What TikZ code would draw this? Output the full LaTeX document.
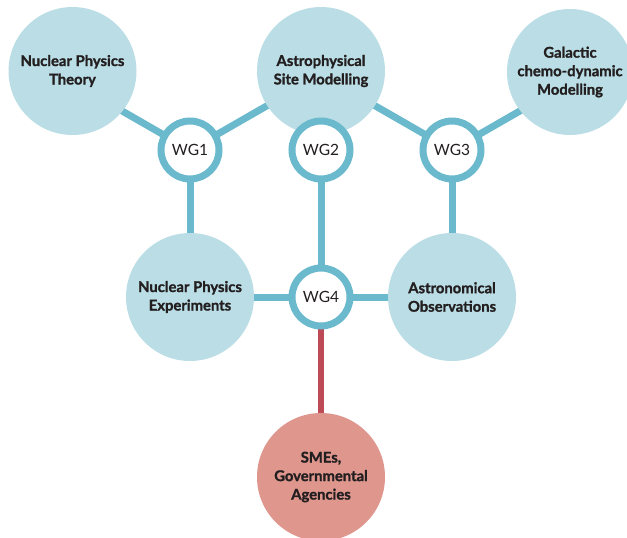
\documentclass[tikz,border=0pt]{standalone}
\usepackage{fontspec}
\setmainfont{Lato}[BoldFeatures={FakeBold=1.3}]
\usetikzlibrary{backgrounds}
\definecolor{bubble}{RGB}{187,222,230}
\definecolor{ringblue}{RGB}{107,185,204}
\definecolor{pinkbubble}{RGB}{222,150,141}
\definecolor{redlink}{RGB}{190,74,85}
\definecolor{textdark}{RGB}{35,31,32}
\begin{document}
\begin{tikzpicture}[x=1pt,y=-1pt,
  big/.style={circle, fill=bubble, minimum size=128pt, inner sep=0pt, align=center,
    font=\bfseries\fontsize{14.8}{18.5}\selectfont, text=textdark},
  wg/.style={circle, draw=ringblue, line width=7pt, fill=white, minimum size=58pt,
    inner sep=0pt, font=\fontsize{15.5}{18}\selectfont, text=textdark},
  link/.style={line width=7pt, draw=ringblue},
  rlink/.style={line width=6pt, draw=redlink}]
\useasboundingbox (0,0) rectangle (627,538);
% big circles
\node[big] (NPT) at (72.5,71) {Nuclear Physics\\Theory};
\node[big] (ASM) at (321,71) {Astrophysical\\Site Modelling};
\node[big, minimum size=126pt] (GCM) at (570,72) {Galactic\\chemo-dynamic\\Modelling};
\node[big] (NPE) at (190,297) {Nuclear Physics\\Experiments};
\node[big] (ASO) at (452,297) {Astronomical\\Observations};
\node[big, fill=pinkbubble] (SME) at (321,477) {SMEs,\\Governmental\\Agencies};
% working groups
\node[wg] (WG1) at (190,150) {WG1};
\node[wg] (WG2) at (321,150) {WG2};
\node[wg] (WG3) at (452,150) {WG3};
\node[wg] (WG4) at (321,297) {WG4};
% free ends of slanted connectors
\coordinate (e1l) at ([shift={(-87,-50)}]WG1.center);
\coordinate (e1r) at ([shift={(87,-50)}]WG1.center);
\coordinate (e3l) at ([shift={(-87,-50)}]WG3.center);
\coordinate (e3r) at ([shift={(87,-50)}]WG3.center);
\begin{scope}[on background layer]
  \draw[link] (WG1.center) -- (e1l);
  \draw[link] (WG1.center) -- (e1r);
  \draw[link] (WG3.center) -- (e3l);
  \draw[link] (WG3.center) -- (e3r);
  \draw[link] (WG1.center) -- (NPE.center);
  \draw[link] (WG2.center) -- (WG4.center);
  \draw[link] (WG3.center) -- (ASO.center);
  \draw[link] (NPE.center) -- (ASO.center);
  \draw[rlink] (WG4.center) -- (SME.center);
\end{scope}
\end{tikzpicture}
\end{document}
